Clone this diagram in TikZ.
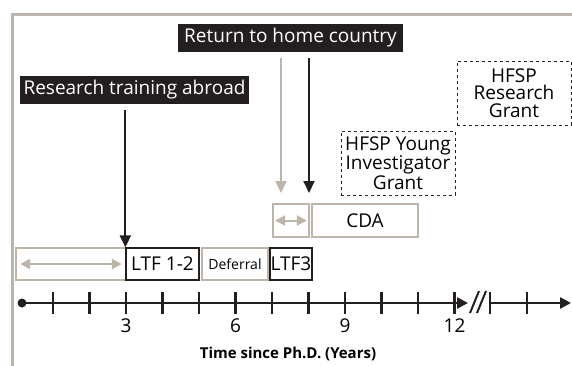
\documentclass[tikz,border=0pt]{standalone}
\usepackage{fontspec}
\setmainfont{Open Sans}
\usetikzlibrary{arrows.meta}

\definecolor{taupe}{HTML}{BDB5A9}
\definecolor{ink}{HTML}{231F20}

\tikzset{
  every node/.style={font=\fontsize{19}{19}\selectfont, inner sep=0pt},
  tag/.style={fill=ink, text=white, minimum height=28pt},
  period/.style={draw=ink, line width=1.3pt, minimum height=32pt},
  spare/.style={draw=taupe, line width=1.6pt, minimum height=32pt},
  grant/.style={draw=ink, dashed, line width=1pt, align=center,
    minimum width=114pt, minimum height=64pt,
    font=\fontsize{19}{17.5}\selectfont},
  tip/.style={-{Triangle[length=12pt,width=11pt]}, line width=2pt},
  span/.style={{Triangle[length=10pt,width=10pt]}-{Triangle[length=10pt,width=10pt]},
    draw=taupe, line width=2.5pt},
  axis/.style={ink, line width=2.5pt},
}

\begin{document}
\begin{tikzpicture}[x=1pt,y=-1pt]
\useasboundingbox (0,0) rectangle (572,365);
% frame
\draw[taupe, line width=3pt] (12,366) -- (12,14) -- (573,14);

% labels on top
\node[tag, minimum width=229pt] (abroad) at (134.5,90) {Research training abroad};
\node[tag, minimum width=225pt] (home) at (290.5,38) {Return to home country};

% grants
\node[grant] (young) at (398,163) {HFSP Young\\Investigator\\Grant};
\node[grant] (research) at (514,93) {HFSP\\Research\\Grant};

% fellowship row
\node[spare, minimum width=110pt] (before) at (71,264) {};
\node[period, minimum width=73pt] (ltf12) at (162.5,264) {LTF 1-2};
\node[spare, minimum width=66pt, font=\fontsize{14}{14}\selectfont] (defer) at (235,264) {Deferral};
\node[period, minimum width=42pt] (ltf3) at (291,264) {LTF3};
\draw[span] ([xshift=5pt]before.west) -- ([xshift=-5pt]before.east);

% CDA row
\node[spare, minimum width=36pt, minimum height=33pt] (gap) at (291,220.5) {};
\node[spare, minimum width=106pt, minimum height=33pt] (cda) at (365,220.5) {CDA};
\draw[span, line width=2pt] ([xshift=3pt]gap.west) -- ([xshift=-3pt]gap.east);

% arrows down
\draw[tip, ink] (abroad.south -| ltf12.west) ++(0,6) -- (ltf12.north west);
\coordinate (grayend) at (281,193);
\coordinate (blackend) at (309,193);
\draw[tip, taupe] (home.south -| grayend) ++(0,6) -- (grayend);
\draw[tip, ink] (home.south -| blackend) ++(0,6) -- (blackend);

% time axis
\coordinate (start) at (22,303);
\coordinate (brk) at (468,303);
\coordinate (resume) at (490,303);
\coordinate (stop) at (571,303);
\draw[axis, -{Triangle[length=11pt,width=11pt]}] (start) -- (brk);
\fill[ink] (start) circle (4.5pt);
\foreach \t in {1,...,12}
  \draw[axis] ({16.5+36.5*\t},292) -- ++(0,22);
\foreach \t in {3,6,9,12}
  \node (yr\t) at ({16.5+36.5*\t},326) {\t};
\draw[axis, line width=2pt] (470,313) -- (479,291);
\draw[axis, line width=2pt] (477,313) -- (486,291);
\draw[axis, -{Triangle[length=11pt,width=11pt]}] (resume) -- (stop);
\draw[axis] (490,292) -- ++(0,22);
\draw[axis] (527,292) -- ++(0,22);
\node[font=\bfseries\fontsize{15}{15}\selectfont] (caption) at (288,354) {Time since Ph.D. (Years)};
\end{tikzpicture}
\end{document}
